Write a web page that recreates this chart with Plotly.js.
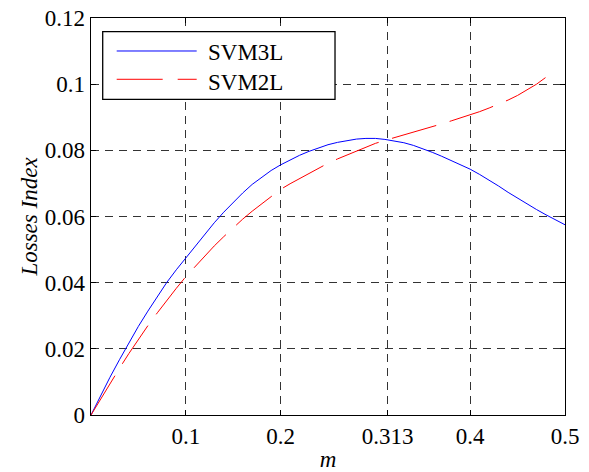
<!DOCTYPE html>
<html>
<head>
<meta charset="utf-8">
<script src="https://cdn.plot.ly/plotly-3.0.1.min.js"></script>
<style>html,body{margin:0;padding:0;background:#fff;}#chart{width:589px;height:472px;}</style>
</head>
<body>
<div id="chart"></div>
<script>
var mValues = [0,0.01,0.02,0.03,0.04,0.05,0.06,0.07,0.08,0.09,0.10,0.11,0.12,0.13,0.14,0.15,0.16,0.17,0.18,0.19,0.20,0.21,0.22,0.23,0.24,0.25,0.26,0.27,0.28,0.29,0.30,0.31,0.32,0.33,0.34,0.35,0.36,0.37,0.38,0.39,0.40,0.41,0.42,0.43,0.44,0.45,0.46,0.47,0.48,0.49,0.50];
var svm3l = [0,0.0058,0.0114,0.0167,0.0219,0.0268,0.0314,0.0357,0.0401,0.0439,0.0474,0.0511,0.0547,0.0581,0.0613,0.0643,0.0671,0.0697,0.0719,0.0739,0.0756,0.0771,0.0785,0.0797,0.0808,0.0817,0.0824,0.0830,0.0834,0.0836,0.0836,0.0833,0.0829,0.0823,0.0815,0.0805,0.0794,0.0782,0.0769,0.0756,0.0743,0.0727,0.0710,0.0692,0.0673,0.0655,0.0638,0.0621,0.0605,0.0590,0.0575];
var mValues2 = [0,0.01,0.02,0.03,0.04,0.05,0.06,0.07,0.08,0.09,0.10,0.11,0.12,0.13,0.14,0.15,0.16,0.17,0.18,0.19,0.20,0.21,0.22,0.23,0.24,0.25,0.26,0.27,0.28,0.29,0.30,0.31,0.32,0.33,0.34,0.35,0.36,0.37,0.38,0.39,0.40,0.41,0.42,0.43,0.44,0.45,0.46,0.47,0.48,0.489];
var svm2l = [0,0.0048,0.0095,0.0141,0.0186,0.0229,0.0270,0.0309,0.0347,0.0383,0.0418,0.0450,0.0481,0.0511,0.0539,0.0566,0.0592,0.0616,0.0638,0.0660,0.0682,0.0699,0.0715,0.0731,0.0746,0.0761,0.0774,0.0786,0.0798,0.0810,0.0821,0.0830,0.0838,0.0846,0.0855,0.0863,0.0872,0.0880,0.0889,0.0898,0.0907,0.0917,0.0928,0.0939,0.0952,0.0966,0.0982,0.1000,0.1021,0.1041];
var seriesNames = ['SVM3L','SVM2L'];
var xTickVals = [0.1,0.2,0.313,0.4,0.5];
var xTickText = ['0.1','0.2','0.313','0.4','0.5'];
var yTickVals = [0,0.02,0.04,0.06,0.08,0.1,0.12];
var yTickText = ['0','0.02','0.04','0.06','0.08','0.1','0.12'];

var serif = "'Liberation Serif', 'Times New Roman', serif";
var fs = 23;

var traces = [
  {x: mValues, y: svm3l, name: seriesNames[0], mode: 'lines', line: {color: '#0000ff', width: 1}},
  {x: mValues2, y: svm2l, name: seriesNames[1], mode: 'lines', line: {color: '#ff0000', width: 1, dash: '46px,14px'}}
];

var axisCommon = {
  showline: true, linecolor: '#000', linewidth: 1.3, mirror: 'ticks',
  ticks: 'inside', ticklen: 5, tickcolor: '#000', tickwidth: 1,
  showgrid: true, gridcolor: '#333', gridwidth: 1, griddash: '8px,6px',
  zeroline: false, tickfont: {family: serif, size: fs, color: '#000'}
};

var layout = {
  width: 589, height: 472,
  margin: {l: 91, r: 24, t: 18, b: 57},
  paper_bgcolor: '#fff', plot_bgcolor: '#fff',
  font: {family: serif},
  showlegend: false,
  xaxis: Object.assign({}, axisCommon, {
    range: [0, 0.5], tickmode: 'array', tickvals: xTickVals, ticktext: xTickText,
    title: {text: '<i>m</i>', font: {family: serif, size: fs, color: '#000'}, standoff: 6}
  }),
  yaxis: Object.assign({}, axisCommon, {
    range: [0, 0.12], tickmode: 'array', tickvals: yTickVals, ticktext: yTickText,
    title: {text: '<i>Losses Index</i>', font: {family: serif, size: fs, color: '#000'}, standoff: 0}
  }),
  shapes: [
    {type: 'rect', xref: 'paper', yref: 'paper', x0: 0.0247, x1: 0.5148, y0: 0.7952, y1: 0.9655,
     fillcolor: '#fff', line: {color: '#000', width: 1.3}, layer: 'above'},
    {type: 'line', xref: 'paper', yref: 'paper', x0: 0.0542, x1: 0.2230, y0: 0.9169, y1: 0.9169,
     line: {color: '#0000ff', width: 1}, layer: 'above'},
    {type: 'line', xref: 'paper', yref: 'paper', x0: 0.0542, x1: 0.2230, y0: 0.8456, y1: 0.8456,
     line: {color: '#ff0000', width: 1, dash: '46px,15px'}, layer: 'above'}
  ],
  annotations: [
    {xref: 'paper', yref: 'paper', x: 0.2426, y: 0.912, xanchor: 'left', yanchor: 'middle', showarrow: false,
     text: seriesNames[0], font: {family: serif, size: fs, color: '#000'}},
    {xref: 'paper', yref: 'paper', x: 0.2426, y: 0.838, xanchor: 'left', yanchor: 'middle', showarrow: false,
     text: seriesNames[1], font: {family: serif, size: fs, color: '#000'}}
  ]
};

Plotly.newPlot('chart', traces, layout, {displayModeBar: false, staticPlot: true});
</script>
</body>
</html>
